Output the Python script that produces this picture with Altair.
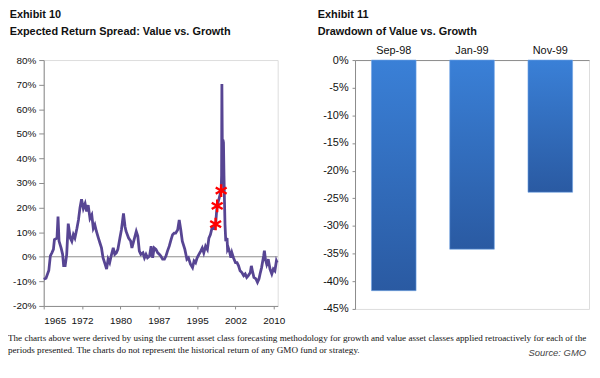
import altair as alt
import pandas as pd

# ---------------- data ----------------
years = [1965.0, 1965.45, 1966.0, 1966.3, 1966.6, 1966.9, 1967.1, 1967.6, 1967.8, 1968.0,
         1968.4, 1968.7, 1968.9, 1969.2, 1969.5, 1969.8, 1970.2, 1970.5, 1970.8, 1971.1,
         1971.5, 1971.8, 1972.1, 1972.4, 1972.75, 1973.1, 1973.4, 1973.7, 1974.05, 1974.4,
         1974.7, 1975.0, 1975.3, 1975.7, 1976.0, 1976.3, 1976.6, 1977.0, 1977.3, 1977.6,
         1977.9, 1978.2, 1978.6, 1978.9, 1979.2, 1979.5, 1979.9, 1980.2, 1980.6, 1980.9,
         1981.1, 1981.6, 1982.0, 1982.25, 1982.6, 1983.1, 1983.4, 1983.7, 1984.0, 1984.4,
         1984.7, 1985.0, 1985.3, 1985.7, 1986.0, 1986.3, 1986.6, 1986.95, 1987.3, 1987.6,
         1987.9, 1988.25, 1988.6, 1988.9, 1989.2, 1989.55, 1989.9, 1990.2, 1990.5, 1990.8,
         1991.2, 1991.5, 1991.8, 1992.1, 1992.6, 1993.0, 1993.3, 1993.7, 1994.1, 1994.4,
         1994.7, 1995.0, 1995.35, 1995.7, 1996.0, 1996.3, 1996.65, 1997.0, 1997.3, 1997.6,
         1997.9, 1998.3, 1998.62, 1998.8, 1998.92, 1999.2, 1999.45, 1999.7, 1999.78, 1999.84,
         1999.9, 1999.96, 2000.05, 2000.15, 2000.25, 2000.35, 2000.45, 2000.6, 2000.85, 2000.95,
         2001.1, 2001.4, 2001.6, 2001.8, 2002.1, 2002.5, 2002.8, 2003.1, 2003.4, 2003.75,
         2004.1, 2004.4, 2004.7, 2005.0, 2005.4, 2005.6, 2005.8, 2006.1, 2006.5, 2006.8,
         2007.1, 2007.3, 2007.6, 2008.0, 2008.15, 2008.35, 2008.6, 2008.9, 2009.25, 2009.6,
         2009.9, 2010.2, 2010.5, 2010.65]
spread = [-9.1, -8.7, -5.6, 0.4, 1.6, 3.0, 7.0, 7.6, 16.4, 6.4,
          3.6, 1.0, -3.6, -3.6, 1.0, 13.5, 7.6, 6.3, 9.0, 7.6,
          11.6, 15.0, 20.0, 23.4, 19.6, 21.6, 18.4, 21.0, 15.6, 17.0,
          11.6, 13.0, 10.4, 7.6, 5.6, 3.6, -0.4, -3.0, -5.0, -1.0,
          -2.4, 0.4, 3.6, 1.0, 1.6, 3.0, 7.6, 11.0, 17.6, 12.3,
          10.4, 7.6, 6.4, 3.6, 6.4, 10.3, 8.4, 2.3, 1.0, 1.6,
          -0.4, 1.0, -0.4, 0.3, 4.3, -0.4, 3.6, 3.0, 1.6, 1.0,
          0.3, -1.0, -1.0, 0.3, 2.3, 4.3, 7.0, 9.0, 9.6, 9.6,
          11.0, 15.0, 11.0, 6.3, 3.0, -1.0, -0.4, -3.0, -4.4, -1.7,
          -2.4, -0.4, 1.0, 2.3, 3.6, 1.6, 4.3, 3.0, 7.6, 9.0,
          11.6, 11.5, 13.3, 18.3, 20.7, 23.0, 25.0, 26.9, 33.0, 70.3,
          52.0, 33.0, 47.6, 46.4, 33.0, 22.4, 13.0, 6.3, 7.6, 3.0,
          3.6, 1.6, -0.4, 1.6, -0.4, -2.4, -2.4, -3.7, -5.7, -6.4,
          -7.7, -7.0, -8.4, -7.7, -6.4, -3.7, -5.7, -8.4, -9.0, -10.4,
          -9.0, -7.0, -4.4, 0.3, 2.5, -1.0, -3.0, -1.0, -5.0, -7.0,
          -5.0, -5.7, -1.7, -2.4]
star_years = [1998.62, 1998.92, 1999.7]
star_values = [13.3, 20.7, 26.9]
x_tick_values = [1965, 1972.5, 1980, 1987.5, 1995, 2002.5, 2010]
y_ticks_left = [-20, -10, 0, 10, 20, 30, 40, 50, 60, 70, 80]

categories = ["Sep-98", "Jan-99", "Nov-99"]
drawdowns = [-41.7, -34.2, -23.9]
y_ticks_right = [-45, -40, -35, -30, -25, -20, -15, -10, -5, 0]

left_title = ["Exhibit 10", "Expected Return Spread: Value vs. Growth"]
right_title = ["Exhibit 11", "Drawdown of Value vs. Growth"]
note_lines = [
    "The charts above were derived by using the current asset class forecasting methodology for growth and value asset classes applied retroactively for each of the",
    "periods presented. The charts do not represent the historical return of any GMO fund or strategy.",
]
source_text = "Source: GMO"

# ---------------- styling ----------------
SANS = "Liberation Sans"
SERIF = "Liberation Serif"
AX = "#8c8c8c"
LINE = "#574593"

line_df = pd.DataFrame({"year": years, "spread": spread})
star_df = pd.DataFrame({"year": star_years, "spread": star_values})
zero_df = pd.DataFrame({"spread": [0]})
bar_df = pd.DataFrame({"period": categories, "drawdown": drawdowns})

x_scale = alt.Scale(domain=[1965, 2010.75], nice=False, zero=False)
y_scale = alt.Scale(domain=[-20, 80], nice=False)
x_axis = alt.Axis(values=x_tick_values, labelExpr="floor(datum.value)", title=None, grid=False,
                  domainColor=AX, tickColor=AX, tickSize=3, labelFont=SANS, labelFontSize=10,
                  labelColor="#111", labelPadding=7, labelOverlap=False)
y_axis = alt.Axis(values=y_ticks_left, labelExpr="datum.value + '%'", title=None, grid=False,
                  domainColor=AX, tickColor=AX, tickSize=5, labelFont=SANS, labelFontSize=10,
                  labelColor="#111", labelPadding=3, labelOverlap=False)

zero_rule = alt.Chart(zero_df).mark_rule(color="#8c8c8c", strokeWidth=1).encode(
    y=alt.Y("spread:Q", scale=y_scale, axis=y_axis))
line = alt.Chart(line_df).mark_line(color=LINE, strokeWidth=2.8).encode(
    x=alt.X("year:Q", scale=x_scale, axis=x_axis),
    y=alt.Y("spread:Q", scale=y_scale, axis=y_axis))
star_path = "M0,-1L0,1M-0.87,-0.5L0.87,0.5M-0.87,0.5L0.87,-0.5"
stars = alt.Chart(star_df).mark_point(shape=star_path, filled=False, color="#ff0000",
                                      strokeWidth=2.4, size=160, opacity=1).encode(
    x=alt.X("year:Q", scale=x_scale, axis=x_axis),
    y=alt.Y("spread:Q", scale=y_scale, axis=y_axis))

left = alt.layer(zero_rule, line, stars).properties(
    width=236, height=248,
    title=alt.TitleParams(text=left_title, anchor="start", font=SANS, fontSize=11,
                          fontWeight="bold", lineHeight=17, color="#111", offset=18, dx=-3),
)

bars = alt.Chart(bar_df).mark_bar(
    color=alt.Gradient(gradient="linear",
                       stops=[alt.GradientStop(color="#3a80d7", offset=0),
                              alt.GradientStop(color="#2a5aa2", offset=1)],
                       x1=0, x2=0, y1=0, y2=1),
    stroke="#6fa3e6", strokeWidth=0.6,
).encode(
    x=alt.X("period:N", sort=categories,
            scale=alt.Scale(paddingInner=0.43, paddingOuter=0.21),
            axis=alt.Axis(orient="top", title=None, labelAngle=0, ticks=False, domainColor=AX,
                          labelFont=SANS, labelFontSize=11, labelColor="#111", labelPadding=5)),
    y=alt.Y("drawdown:Q", scale=alt.Scale(domain=[-45, 0], nice=False),
            axis=alt.Axis(values=y_ticks_right, labelExpr="datum.value + '%'", title=None,
                          grid=False, domainColor=AX, tickColor=AX, tickSize=3,
                          labelFont=SANS, labelFontSize=11, labelColor="#111", labelPadding=4,
                          labelOverlap=False)),
).properties(
    width=236, height=251,
    title=alt.TitleParams(text=right_title, anchor="start", font=SANS, fontSize=11,
                          fontWeight="bold", lineHeight=17, color="#111", offset=7, dx=-5),
)

note_layers = []
for i, txt in enumerate(note_lines):
    note_layers.append(
        alt.Chart(pd.DataFrame({"t": [txt]})).mark_text(
            align="left", baseline="alphabetic", font=SERIF, fontSize=9.2, color="#111"
        ).encode(text="t:N", x=alt.value(-36), y=alt.value(10 + 12 * i))
    )
src = alt.Chart(pd.DataFrame({"s": [source_text]})).mark_text(
    align="right", baseline="alphabetic", font=SANS, fontStyle="italic", fontSize=9.5,
    color="#444").encode(text="s:N", x=alt.value(547), y=alt.value(25))
footer = alt.layer(*note_layers, src).properties(width=520, height=28,
                                                 view=alt.ViewBackground(strokeOpacity=0))

top = alt.hconcat(left, bars, spacing=31)
chart = alt.vconcat(top, footer, spacing=4).properties(
    padding={"left": 0, "top": -1, "right": 2, "bottom": 0}
).configure_view(stroke=AX, strokeWidth=1).configure(background="white")

chart.save("out.html", embed_options={"renderer": "svg", "actions": False})
